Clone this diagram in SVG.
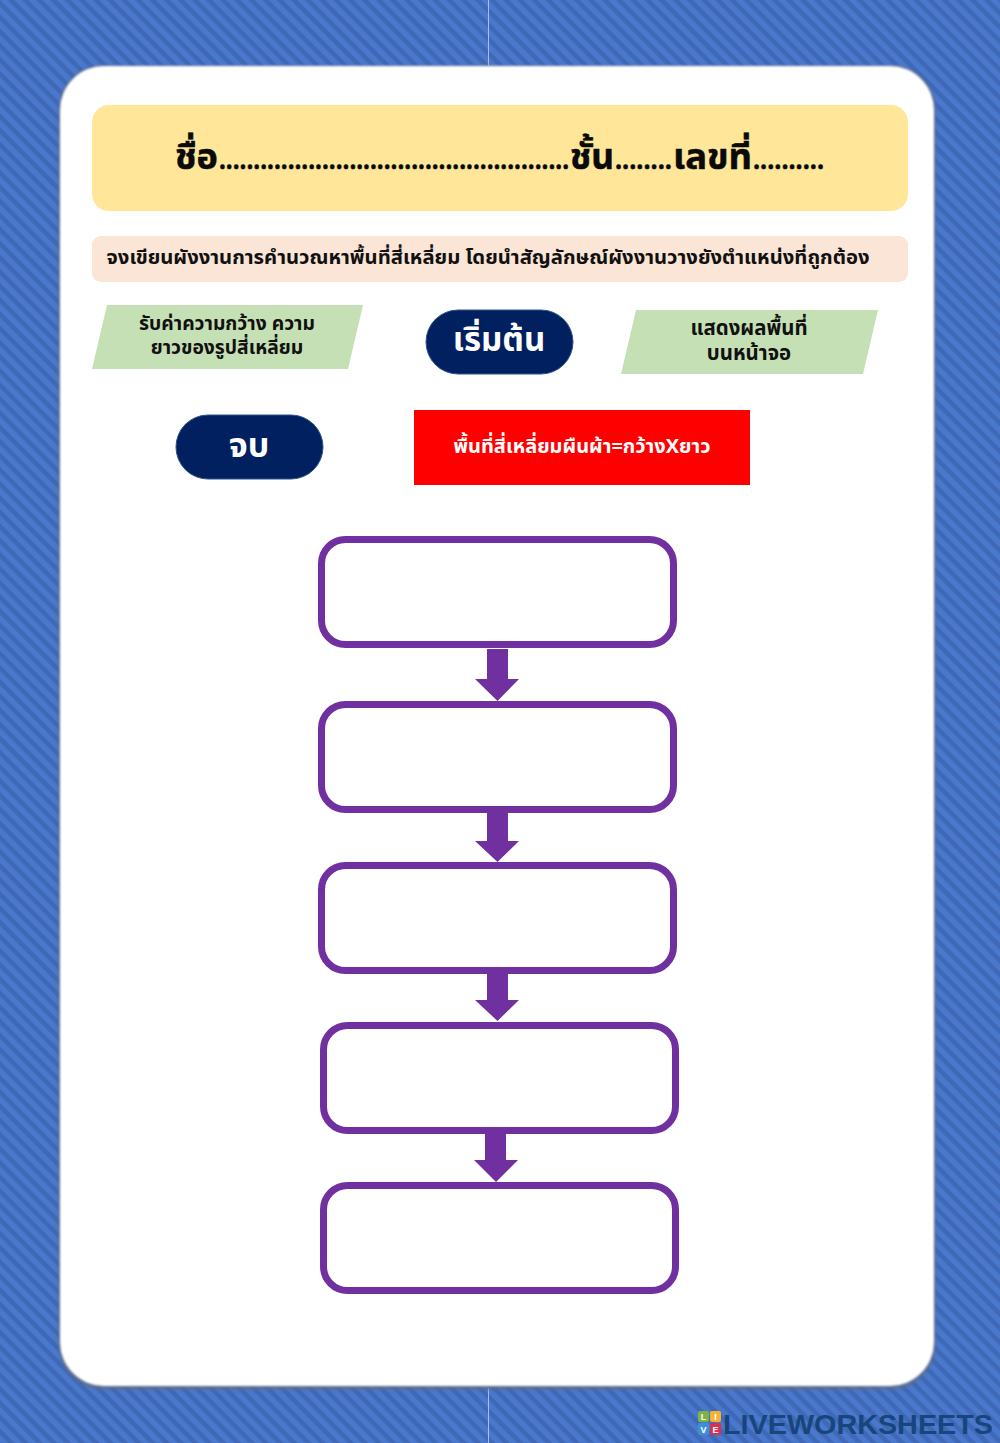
<svg xmlns="http://www.w3.org/2000/svg" width="1000" height="1443" viewBox="0 0 1000 1443">
<style>
text{font-family:"Noto Sans Thai","Noto Sans Thai UI","Noto Sans","DejaVu Sans",sans-serif;font-weight:700;text-anchor:middle}
.box{fill:#fff;stroke:#7030a0;stroke-width:7}
.arrow{fill:#7030a0}
.term{fill:#002060;stroke:#2f528f;stroke-width:1}
.io{fill:#c5e0b4}
.d{fill:#111}
.w{fill:#fff}
.t{text-anchor:start;fill:#0a0a0a;stroke:#0a0a0a;stroke-width:.5}
.l{font-family:"Liberation Sans",sans-serif;font-size:9px;fill:#fff}
</style>
<defs>
<pattern id="st" width="10" height="10" patternUnits="userSpaceOnUse" patternTransform="rotate(45)">
<rect width="10" height="10" fill="#4a78cd"/><rect width="10" height="4.500" fill="#3f68b6"/>
</pattern>
<filter id="soft" x="-5%" y="-5%" width="110%" height="110%"><feGaussianBlur stdDeviation="2"/></filter>
<filter id="soft2" x="-5%" y="-5%" width="110%" height="110%"><feGaussianBlur stdDeviation="1.200"/></filter>
</defs>
<g id="background">
<rect width="1000" height="1443" fill="url(#st)"/>
<path d="M488.500 0V66M488.500 1388V1443" stroke="#a9bde6" stroke-width="1"/>
<rect x="59" y="66" width="876" height="1323" rx="44" fill="#5b6a88" filter="url(#soft)"/>
<rect x="60" y="66" width="874" height="1320" rx="44" fill="#fff" filter="url(#soft2)"/>
</g>
<g id="title"><rect x="92" y="105" width="816" height="106" rx="17" fill="#ffe699"/>
<text class="t" x="175" y="169" font-size="35" textLength="43" lengthAdjust="spacingAndGlyphs">ชื่อ</text>
<text class="t" x="219" y="169" font-size="27" textLength="350" lengthAdjust="spacingAndGlyphs">...................................................</text>
<text class="t" x="570" y="169" font-size="35" textLength="44" lengthAdjust="spacingAndGlyphs">ชั้น</text>
<text class="t" x="615" y="169" font-size="27" textLength="57" lengthAdjust="spacingAndGlyphs">........</text>
<text class="t" x="673" y="169" font-size="35" textLength="79" lengthAdjust="spacingAndGlyphs">เลขที่</text>
<text class="t" x="753" y="169" font-size="27" textLength="71" lengthAdjust="spacingAndGlyphs">..........</text></g>
<g id="instruction"><rect x="92" y="236" width="816" height="46" rx="9" fill="#fbe5d6"/>
<text x="488" y="264" font-size="19" textLength="763" lengthAdjust="spacingAndGlyphs" class="d">จงเขียนผังงานการคำนวณหาพื้นที่สี่เหลี่ยม โดยนำสัญลักษณ์ผังงานวางยังตำแหน่งที่ถูกต้อง</text></g>
<g id="input"><polygon class="io" points="107,305 363,305 348,369 92,369"/>
<text x="227" y="330" font-size="19.300" class="d">รับค่าความกว้าง ความ</text>
<text x="227" y="354" font-size="19.300" class="d">ยาวของรูปสี่เหลี่ยม</text></g>
<g id="start"><rect class="term" x="426" y="310" width="147" height="64" rx="32"/>
<text x="499" y="351" font-size="33" class="w">เริ่มต้น</text></g>
<g id="output"><polygon class="io" points="636,310 878,310 863,374 621,374"/>
<text x="749" y="335" font-size="20.400" class="d">แสดงผลพื้นที่</text>
<text x="749" y="360" font-size="20.400" class="d">บนหน้าจอ</text></g>
<g id="end"><rect class="term" x="176" y="415" width="147" height="64" rx="32"/>
<text x="249" y="457" font-size="34" class="w">จบ</text></g>
<g id="process"><rect x="414" y="410" width="336" height="75" fill="#ff0000"/>
<text x="582" y="453" font-size="20" class="w">พื้นที่สี่เหลี่ยมผืนผ้า=กว้างXยาว</text></g>
<g id="box1"><rect class="box" x="321.500" y="539.500" width="352" height="105" rx="24"/></g>
<g id="box2"><rect class="box" x="321.500" y="704.500" width="352" height="105" rx="24"/></g>
<g id="box3"><rect class="box" x="321.500" y="865.500" width="352" height="105" rx="24"/></g>
<g id="box4"><rect class="box" x="323.500" y="1025.500" width="352" height="105" rx="24"/></g>
<g id="box5"><rect class="box" x="323.500" y="1185.500" width="352" height="105" rx="24"/></g>
<g id="connectors">
<polygon class="arrow" points="487,649 508,649 508,679 519,679 497.500,701 475,679 487,679"/>
<polygon class="arrow" points="487,812 508,812 508,841 519,841 497.500,862 475,841 487,841"/>
<polygon class="arrow" points="487,973 508,973 508,1000 519,1000 497.500,1021 475,1000 487,1000"/>
<polygon class="arrow" points="485,1133 506,1133 506,1160 518,1160 496,1182 474,1160 485,1160"/>
</g>
<g id="watermark">
<rect x="698" y="1411" width="11" height="11" rx="2" fill="#7cb342"/><rect x="710" y="1411" width="11" height="11" rx="2" fill="#f5b335"/>
<rect x="698" y="1423" width="11" height="12" rx="2" fill="#3f8fd6"/><rect x="710" y="1423" width="11" height="12" rx="2" fill="#d9304f"/>
<text class="l" x="703.500" y="1420">L</text><text class="l" x="715.500" y="1420">I</text><text class="l" x="703.500" y="1432.500">V</text><text class="l" x="715.500" y="1432.500">E</text>
<text x="858" y="1434" font-size="28" textLength="270" lengthAdjust="spacingAndGlyphs" style="font-family:'Liberation Sans',sans-serif" fill="#17457c">LIVEWORKSHEETS</text>
</g>
</svg>
